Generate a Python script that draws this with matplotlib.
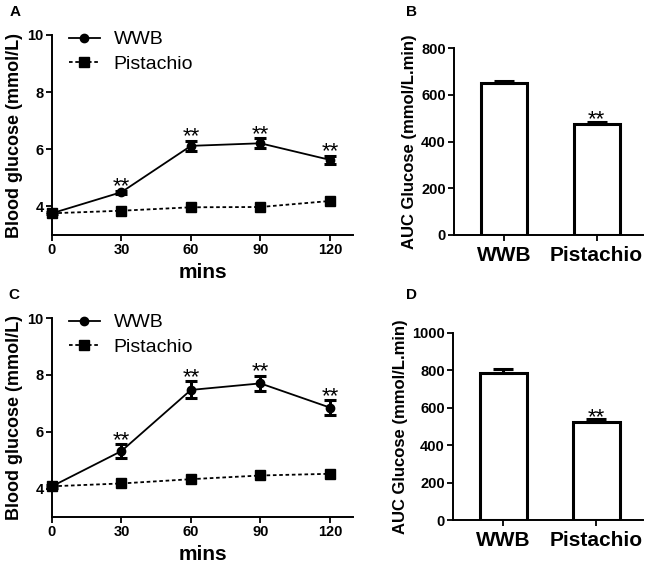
import numpy as np
import matplotlib
matplotlib.use("Agg")
import matplotlib.pyplot as plt
from matplotlib.lines import Line2D

plt.rcParams['font.family'] = ['Liberation Sans', 'DejaVu Sans']

# time course data (mins)
mins = [0, 30, 60, 90, 120]

# panel A
wwb_a = [3.76, 4.50, 6.12, 6.21, 5.63]
wwb_a_err = [0.04, 0.05, 0.18, 0.18, 0.15]
pist_a = [3.76, 3.85, 3.97, 3.98, 4.19]
sig_a = [False, True, True, True, True]

# panel C
wwb_c = [4.08, 5.32, 7.47, 7.70, 6.85]
wwb_c_err = [0.05, 0.24, 0.30, 0.27, 0.26]
pist_c = [4.08, 4.18, 4.33, 4.46, 4.52]
sig_c = [False, True, True, True, True]

# AUC bars
groups = ["WWB", "Pistachio"]
auc_b = [650, 476]
auc_b_err = [10, 8]
auc_d = [785, 526]
auc_d_err = [20, 12]
sig_bar = [False, True]

W, H = 649, 571
fig = plt.figure(figsize=(W / 100, H / 100), dpi=100)

DOTTED = (0, (2, 1.5))


def px_axes(left, top, right, bottom):
    # make an axes from pixel box coords
    return fig.add_axes([left / W, 1 - bottom / H, (right - left) / W, (bottom - top) / H])


def style_axes(ax):
    for s in ['top', 'right']:
        ax.spines[s].set_visible(False)
    for s in ['left', 'bottom']:
        ax.spines[s].set_linewidth(1.4)
    ax.tick_params(direction='out', length=4, width=1.3, labelsize=10.5, pad=2)
    for lab in ax.get_xticklabels() + ax.get_yticklabels():
        lab.set_fontweight('bold')


def line_panel(ax, wwb, wwb_err, pist, sig):
    ax.errorbar(mins, wwb, yerr=wwb_err, color='black', marker='o', markersize=6,
                linewidth=1.3, elinewidth=2.2, capsize=4, capthick=2.2,
                clip_on=False, zorder=3)
    ax.plot(mins, pist, color='black', marker='s', markersize=6.5, linewidth=1.3,
            linestyle=DOTTED, clip_on=False, zorder=3)
    for x, y, e, s in zip(mins, wwb, wwb_err, sig):
        if s:
            ax.annotate('**', (x, y + e), xytext=(0, -5), textcoords='offset points',
                        ha='center', va='bottom', fontsize=16)
    ax.set_xlim(0, 130)
    ax.set_ylim(3, 10)
    ax.set_xticks(mins)
    ax.set_yticks([4, 6, 8, 10])
    ax.set_xlabel('mins', fontsize=15, fontweight='bold', labelpad=4)
    ax.set_ylabel('Blood glucose (mmol/L)', fontsize=13, fontweight='bold', labelpad=3)
    style_axes(ax)
    handles = [Line2D([], [], color='black', marker='o', markersize=6, linewidth=1.3),
               Line2D([], [], color='black', marker='s', markersize=6.5, linewidth=1.3,
                      linestyle=DOTTED)]
    ax.legend(handles, ['WWB', 'Pistachio'], loc='upper left', bbox_to_anchor=(0.03, 1.06),
              frameon=False, fontsize=14, handlelength=1.6, handletextpad=0.7,
              labelspacing=0.35, borderaxespad=0)


def bar_panel(ax, vals, errs, ymax, yticks):
    x = np.arange(len(groups))
    ax.bar(x, vals, width=0.5, color='white', edgecolor='black', linewidth=2.2, zorder=2)
    ax.errorbar(x, vals, yerr=[np.zeros(len(errs)), errs], fmt='none', ecolor='black',
                elinewidth=2.2, capsize=7, capthick=2.2, zorder=3)
    for xi, v, e, s in zip(x, vals, errs, sig_bar):
        if s:
            ax.annotate('**', (xi, v + e), xytext=(0, -6), textcoords='offset points',
                        ha='center', va='bottom', fontsize=16)
    ax.set_xlim(-0.54, 1.5)
    ax.set_ylim(0, ymax)
    ax.set_xticks(x)
    ax.set_xticklabels(groups)
    ax.set_yticks(yticks)
    ax.set_ylabel('AUC Glucose (mmol/L.min)', fontsize=12, fontweight='bold', labelpad=3)
    style_axes(ax)
    ax.tick_params(axis='x', labelsize=15, pad=4)


ax_a = px_axes(52, 35, 353, 235)
line_panel(ax_a, wwb_a, wwb_a_err, pist_a, sig_a)

ax_c = px_axes(52, 318, 353, 517)
line_panel(ax_c, wwb_c, wwb_c_err, pist_c, sig_c)

ax_b = px_axes(454, 48, 643, 235)
bar_panel(ax_b, auc_b, auc_b_err, 800, [0, 200, 400, 600, 800])

ax_d = px_axes(453, 333, 643, 520)
bar_panel(ax_d, auc_d, auc_d_err, 1000, [0, 200, 400, 600, 800, 1000])

# panel letters
for letter, (lx, ly) in zip("ABCD", [(10, 12), (406, 12), (8, 295), (406, 295)]):
    fig.text(lx / W, 1 - ly / H, letter, fontsize=11, fontweight='bold',
             ha='left', va='center')

fig.savefig('out.png', dpi=100)
